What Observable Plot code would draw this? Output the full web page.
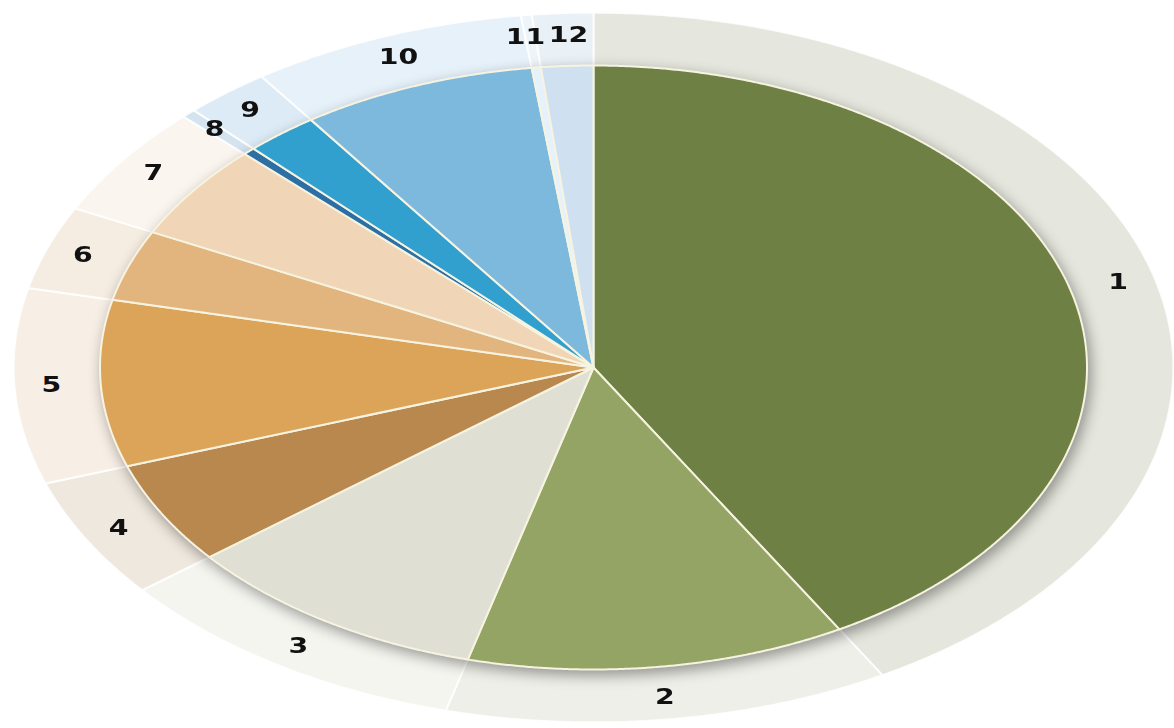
<!DOCTYPE html>
<html>
<head>
<meta charset="utf-8">
<script src="https://cdn.jsdelivr.net/npm/d3@7"></script>
<script src="https://cdn.jsdelivr.net/npm/@observablehq/plot@0.6"></script>
<style>
  html, body { margin: 0; padding: 0; background: #ffffff; }
  #chart svg { display: block; }
</style>
</head>
<body>
<div id="chart"></div>
<script>
// ---- data ----
const categories = ["1", "2", "3", "4", "5", "6", "7", "8", "9", "10", "11", "12"];
const shares = [41.7, 12.4, 10.1, 5.5, 8.9, 3.8, 5.1, 0.4, 2.4, 7.7, 0.3, 1.7];

// ---- palette ----
const pieColors = ["#6e8044", "#94a464", "#e0dfd3", "#b9884f", "#dca459", "#e3b57e",
                   "#f0d6b6", "#2b6fa5", "#31a0ce", "#7db9dc", "#e6f2fb", "#cfe0f0"];
const ringColors = ["#e5e7de", "#eeefe8", "#f5f5f0", "#efe8de", "#f7efe5", "#f5ece2",
                    "#faf5ee", "#d3e3ef", "#dcebf5", "#e7f1f9", "#eef5fa", "#e9f0f6"];

// ---- geometry from data ----
const W = 1174, H = 728;
const ringR = 1.175, labelR = 1.10;
const pie = d3.pie().sort(null).value(d => d)(shares);

function wedge(slice, r) {
  const pts = [{x: 0, y: 0}];
  const n = Math.max(2, Math.ceil((slice.endAngle - slice.startAngle) / (Math.PI / 720)));
  for (let i = 0; i <= n; i++) {
    const a = slice.startAngle + (slice.endAngle - slice.startAngle) * i / n;
    pts.push({x: r * Math.sin(a), y: r * Math.cos(a)});
  }
  pts.push({x: 0, y: 0});
  return pts;
}

const labels = pie.map((s, i) => {
  const a = (s.startAngle + s.endAngle) / 2;
  return {text: categories[i], x: labelR * Math.sin(a), y: labelR * Math.cos(a)};
});

const ringMarks = pie.map((s, i) => Plot.line(wedge(s, ringR), {
  x: "x", y: "y", fill: ringColors[i], stroke: "#ffffff",
  strokeWidth: 2, strokeOpacity: 0.85, ariaDescription: "ring"
}));
const pieMarks = pie.map((s, i) => Plot.line(wedge(s, 1), {
  x: "x", y: "y", fill: pieColors[i], stroke: "#f6f3e0",
  strokeWidth: 2, strokeLinejoin: "round", ariaDescription: "pie"
}));

const textOpts = {x: "x", y: "y", text: "text", fill: "#111111",
  fontSize: 21, fontWeight: "bold", fontFamily: "DejaVu Sans", ariaDescription: "labels"};

const chart = Plot.plot({
  width: W,
  height: H,
  margin: 0,
  style: {background: "#ffffff"},
  x: {domain: [-593 / 493.5, (W - 593) / 493.5], axis: null},
  y: {domain: [-(H - 367) / 302, 367 / 302], axis: null},
  marks: [
    ...ringMarks,
    ...pieMarks,
    Plot.text(labels.filter(d => d.text !== "11" && d.text !== "12"), textOpts),
    Plot.text(labels.filter(d => d.text === "11"), {...textOpts, dx: -5}),
    Plot.text(labels.filter(d => d.text === "12"), {...textOpts, dx: 4})
  ]
});

// one shared drop shadow under the whole pie
const svg = d3.select(chart);
const pieGroups = svg.selectAll('g[aria-description="pie"]').nodes();
const wrap = document.createElementNS("http://www.w3.org/2000/svg", "g");
pieGroups[0].parentNode.insertBefore(wrap, pieGroups[0]);
pieGroups.forEach(g => wrap.appendChild(g));
d3.select(wrap).style("filter", "drop-shadow(3px 5px 7px rgba(0,0,0,0.38))");

// widen the label glyphs like the stretched original
svg.selectAll('g[aria-description="labels"] text').each(function () {
  const x = +this.getAttribute("x") || 0, y = +this.getAttribute("y") || 0;
  const t = this.getAttribute("transform") || "";
  this.setAttribute("transform", `${t} translate(${x},${y}) scale(1.35,1) translate(${-x},${-y})`);
});

document.getElementById("chart").appendChild(chart);
</script>
</body>
</html>
